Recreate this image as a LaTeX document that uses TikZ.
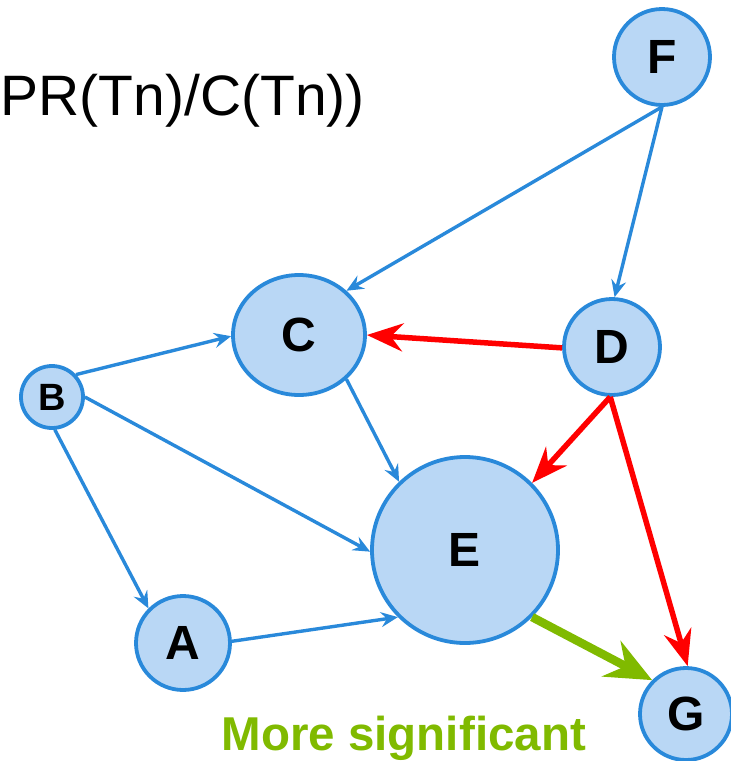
\documentclass[tikz,border=0pt]{standalone}
\usepackage{fontspec}
\setmainfont{Liberation Sans}
\usetikzlibrary{arrows.meta,shapes.geometric}

\definecolor{nodeblue}{RGB}{41,137,218}
\definecolor{nodefill}{RGB}{185,215,245}
\definecolor{sigreen}{RGB}{128,186,0}
\definecolor{hotred}{RGB}{255,0,0}

\tikzset{
  page/.style={x=1pt,y=-1pt},
  vertex/.style={circle,draw=nodeblue,fill=nodefill,line width=3.8pt,inner sep=0pt,
    font=\fontsize{48}{48}\selectfont\bfseries},
  link/.style={draw=nodeblue,line width=3.4pt,-{Stealth[length=17pt,width=15pt,inset=6pt]}},
  hotlink/.style={draw=hotred,line width=5.5pt,-{Stealth[length=36pt,width=28pt,inset=12pt]}},
  siglink/.style={draw=sigreen,line width=8.5pt,-{Stealth[length=46pt,width=40pt,inset=16pt]}}
}

\begin{document}
\begin{tikzpicture}[page]
\useasboundingbox (0,0) rectangle (731,761);

% formula fragment
\node[anchor=base west,inner sep=0pt,font=\fontsize{57}{57}\selectfont] (formula) at (0.5,115) {PR(Tn)/C(Tn))};

% vertices
\node[vertex,minimum size=96pt] (F) at (662,57) {F};
\node[vertex,ellipse,minimum width=132pt,minimum height=120pt] (C) at (299,335) {C};
\node[vertex,minimum size=96pt] (D) at (612,347) {D};
\node[vertex,minimum size=62pt,font=\fontsize{38}{38}\selectfont\bfseries] (B) at (52,397) {B};
\node[vertex,minimum size=186pt] (E) at (465,550) {E};
\node[vertex,minimum size=94pt] (A) at (183,643) {A};
\node[vertex,minimum size=92pt] (G) at (686,714) {G};

% caption
\node[anchor=base west,inner sep=0pt,text=sigreen,font=\fontsize{47.5}{47.5}\selectfont\bfseries] (sig) at (221.5,750) {More significant};

% ordinary links
\draw[link] (F.-90) -- (C.43);
\draw[link] (F.-90) -- (D.87);
\draw[link] (B.43) -- (C.181);
\draw[link] (B.0) -- (E.181);
\draw[link] (B.-85) -- (A.135);
\draw[link] (C.-43) -- (E.134);
\draw[link] (A.2) -- (E.225);

% links out of D
\draw[hotlink] (D.181) -- (C.0);
\draw[hotlink] (D.-92) -- (E.45);
\draw[hotlink] (D.-92) -- (G.88);

% strongest link
\draw[siglink] (E.-45) -- (G.135);
\end{tikzpicture}
\end{document}
